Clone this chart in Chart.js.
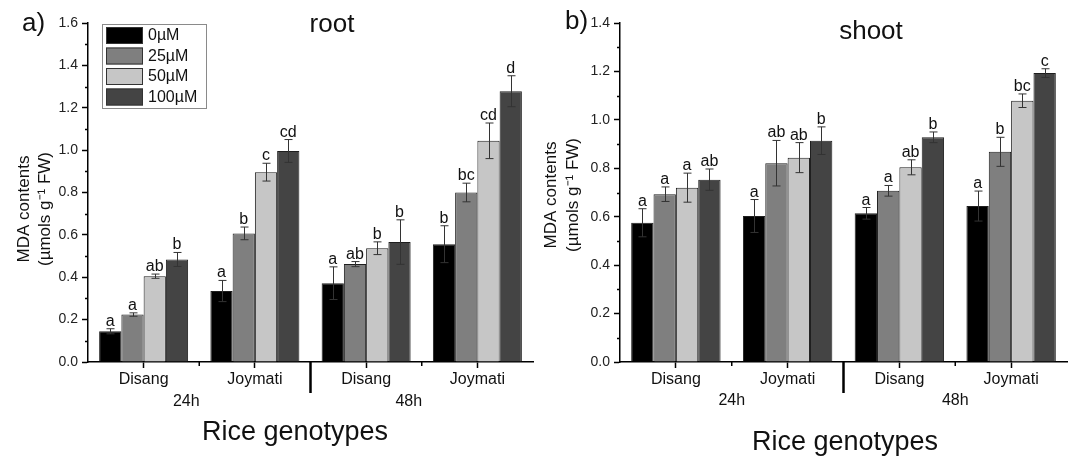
<!DOCTYPE html>
<html>
<head>
<meta charset="utf-8">
<script src="https://cdn.jsdelivr.net/npm/chart.js@4.4.1/dist/chart.umd.min.js"></script>
<style>
  html, body { margin: 0; padding: 0; background: #fff; }
  #wrap { position: relative; width: 1072px; height: 456px; overflow: hidden; }
  #rootChart { position: absolute; left: 0; top: 0; }
  #shootChart { position: absolute; left: 530px; top: 0; }
</style>
</head>
<body>
<div id="wrap">
  <canvas id="rootChart" width="540" height="456"></canvas>
  <canvas id="shootChart" width="542" height="456"></canvas>
</div>
<script>
const genotypes = ["Disang", "Joymati", "Disang", "Joymati"];
const times = ["24h", "48h"];
const doses = ["0µM", "25µM", "50µM", "100µM"];
const doseColors = ["#000000", "#7f7f7f", "#c6c6c6", "#444444"];

// ===== ROOT (MDA, µmol/g FW) =====
const root0 = [0.145, 0.335, 0.372, 0.556];
const root25 = [0.224, 0.607, 0.462, 0.800];
const root50 = [0.405, 0.896, 0.537, 1.044];
const root100 = [0.484, 0.996, 0.566, 1.278];
const rootErr0 = [0.012, 0.050, 0.077, 0.087];
const rootErr25 = [0.008, 0.030, 0.012, 0.044];
const rootErr50 = [0.010, 0.042, 0.030, 0.084];
const rootErr100 = [0.033, 0.054, 0.105, 0.073];
const rootLet0 = ["a", "a", "a", "b"];
const rootLet25 = ["a", "b", "ab", "bc"];
const rootLet50 = ["ab", "c", "b", "cd"];
const rootLet100 = ["b", "cd", "b", "d"];

// ===== SHOOT =====
const shoot0 = [0.575, 0.603, 0.614, 0.644];
const shoot25 = [0.693, 0.821, 0.707, 0.868];
const shoot50 = [0.720, 0.844, 0.804, 1.079];
const shoot100 = [0.753, 0.914, 0.928, 1.193];
const shootErr0 = [0.058, 0.068, 0.024, 0.062];
const shootErr25 = [0.030, 0.094, 0.022, 0.060];
const shootErr50 = [0.060, 0.062, 0.031, 0.028];
const shootErr100 = [0.044, 0.057, 0.022, 0.018];
const shootLet0 = ["a", "a", "a", "a"];
const shootLet25 = ["a", "ab", "a", "b"];
const shootLet50 = ["a", "ab", "ab", "bc"];
const shootLet100 = ["ab", "b", "b", "c"];

const FONT = '"Liberation Sans", Arial, sans-serif';

const decorPlugin = {
    id: "decor",
    afterDatasetsDraw(chart) {
        const ctx = chart.ctx;
        const y = chart.scales.y;
        ctx.save();
        chart.data.datasets.forEach((ds, i) => {
            chart.getDatasetMeta(i).data.forEach((bar, j) => {
                const top = y.getPixelForValue(ds.data[j] + ds.errors[j]);
                const bot = y.getPixelForValue(ds.data[j] - ds.errors[j]);
                const x = Math.round(bar.x) + 0.5;
                ctx.strokeStyle = "#333";
                ctx.lineWidth = 1;
                ctx.beginPath();
                ctx.moveTo(x, top); ctx.lineTo(x, bot);
                ctx.moveTo(x - 4, top); ctx.lineTo(x + 4, top);
                ctx.moveTo(x - 4, bot); ctx.lineTo(x + 4, bot);
                ctx.stroke();
                ctx.fillStyle = "#111";
                ctx.font = "16px " + FONT;
                ctx.textAlign = "center";
                ctx.textBaseline = "alphabetic";
                ctx.fillText(ds.letters[j], bar.x, top - 3);
            });
        });
        ctx.restore();
    },
    afterDraw(chart, args, o) {
        const ctx = chart.ctx;
        const x = chart.scales.x, y = chart.scales.y;
        const area = chart.chartArea;
        ctx.save();
        ctx.strokeStyle = "#000";

        // minor y ticks
        ctx.lineWidth = 1.5;
        ctx.beginPath();
        for (let v = 0.1; v < y.max; v += 0.2) {
            const py = Math.round(y.getPixelForValue(v)) + 0.5;
            ctx.moveTo(area.left - 3, py); ctx.lineTo(area.left, py);
        }
        // minor x ticks between genotypes
        [0, 2].forEach(j => {
            const px = (x.getPixelForValue(j) + x.getPixelForValue(j + 1)) / 2;
            ctx.moveTo(px, area.bottom); ctx.lineTo(px, area.bottom + 4);
        });
        ctx.stroke();

        // separator between 24h and 48h
        const sep = (x.getPixelForValue(1) + x.getPixelForValue(2)) / 2;
        ctx.lineWidth = 2.5;
        ctx.beginPath();
        ctx.moveTo(sep, area.bottom); ctx.lineTo(sep, area.bottom + 31);
        ctx.stroke();

        ctx.fillStyle = "#111";
        ctx.textAlign = "center";
        ctx.textBaseline = "alphabetic";
        ctx.font = "16px " + FONT;
        times.forEach((t, k) => {
            const px = (x.getPixelForValue(2 * k) + x.getPixelForValue(2 * k + 1)) / 2 + o.timeShift;
            ctx.fillText(t, px, o.timeY);
        });

        // x title
        ctx.font = "27px " + FONT;
        ctx.fillText("Rice genotypes", o.xTitleX, o.xTitleY);

        // chart title + panel letter
        ctx.font = "26px " + FONT;
        ctx.fillText(o.title, o.titleX, o.titleY);
        ctx.textAlign = "left";
        ctx.fillText(o.panel, o.panelX, o.panelY);

        // y title
        ctx.save();
        ctx.font = "17px " + FONT;
        ctx.textAlign = "center";
        ctx.textBaseline = "middle";
        ctx.translate(o.yTitleX1, o.yTitleY);
        ctx.rotate(-Math.PI / 2);
        ctx.fillText("MDA contents", 0, 0);
        ctx.fillText("(µmols g⁻¹ FW)", 0, o.yTitleX2 - o.yTitleX1);
        ctx.restore();

        // legend
        if (o.legend) {
            ctx.strokeStyle = "#8a8a8a";
            ctx.lineWidth = 1;
            ctx.strokeRect(102.5, 24.5, 104, 84);
            chart.data.datasets.forEach((ds, i) => {
                const top = 27 + i * 20.5;
                ctx.fillStyle = ds.backgroundColor;
                ctx.fillRect(106, top, 37, 17);
                ctx.strokeStyle = "#333";
                ctx.strokeRect(106.5, top + 0.5, 36, 16);
                ctx.fillStyle = "#111";
                ctx.font = "16px " + FONT;
                ctx.textAlign = "left";
                ctx.textBaseline = "middle";
                ctx.fillText(ds.label, 148, top + 9);
            });
        }
        ctx.restore();
    }
};

function makeChart(id, means, errs, lets, o) {
    return new Chart(document.getElementById(id), {
        type: "bar",
        data: {
            labels: genotypes,
            datasets: doses.map((d, i) => ({
                label: d,
                data: means[i],
                errors: errs[i],
                letters: lets[i],
                backgroundColor: doseColors[i],
                borderColor: "#1e1e1e",
                borderWidth: 1,
                categoryPercentage: 0.8,
                barPercentage: 1
            }))
        },
        options: {
            responsive: false,
            animation: false,
            layout: { padding: { top: 23, right: o.padRight, bottom: 0, left: 0 } },
            plugins: { legend: { display: false }, tooltip: { enabled: false }, decor: o },
            scales: {
                x: {
                    offset: true,
                    grid: { drawOnChartArea: false, offset: false, tickLength: 6, tickColor: "#000", tickWidth: 1.5 },
                    border: { color: "#000", width: 1.5 },
                    ticks: { color: "#111", font: { family: FONT, size: 16 }, padding: 2, maxRotation: 0, autoSkip: false },
                    afterFit: s => { s.height = 94; }
                },
                y: {
                    min: 0,
                    max: o.yMax,
                    grid: { drawOnChartArea: false, tickLength: 6, tickColor: "#000", tickWidth: 1.5 },
                    border: { color: "#000", width: 1.5 },
                    ticks: { stepSize: 0.2, callback: v => v.toFixed(1), color: "#222", font: { family: FONT, size: 14 }, padding: 4 },
                    afterFit: s => { s.width = o.yWidth; }
                }
            }
        },
        plugins: [decorPlugin]
    });
}

makeChart("rootChart",
    [root0, root25, root50, root100],
    [rootErr0, rootErr25, rootErr50, rootErr100],
    [rootLet0, rootLet25, rootLet50, rootLet100],
    {
        yMax: 1.6, yWidth: 88, padRight: 7,
        panel: "a)", panelX: 22, panelY: 31,
        title: "root", titleX: 332, titleY: 32,
        xTitleX: 295, xTitleY: 440,
        yTitleX1: 24, yTitleX2: 45, yTitleY: 209,
        timeShift: -13, timeY: 406,
        legend: true
    });

makeChart("shootChart",
    [shoot0, shoot25, shoot50, shoot100],
    [shootErr0, shootErr25, shootErr50, shootErr100],
    [shootLet0, shootLet25, shootLet50, shootLet100],
    {
        yMax: 1.4, yWidth: 90, padRight: 5,
        panel: "b)", panelX: 35, panelY: 29,
        title: "shoot", titleX: 341, titleY: 39,
        xTitleX: 315, xTitleY: 450,
        yTitleX1: 21, yTitleX2: 43, yTitleY: 195,
        timeShift: 0, timeY: 405,
        legend: false
    });
</script>
</body>
</html>
